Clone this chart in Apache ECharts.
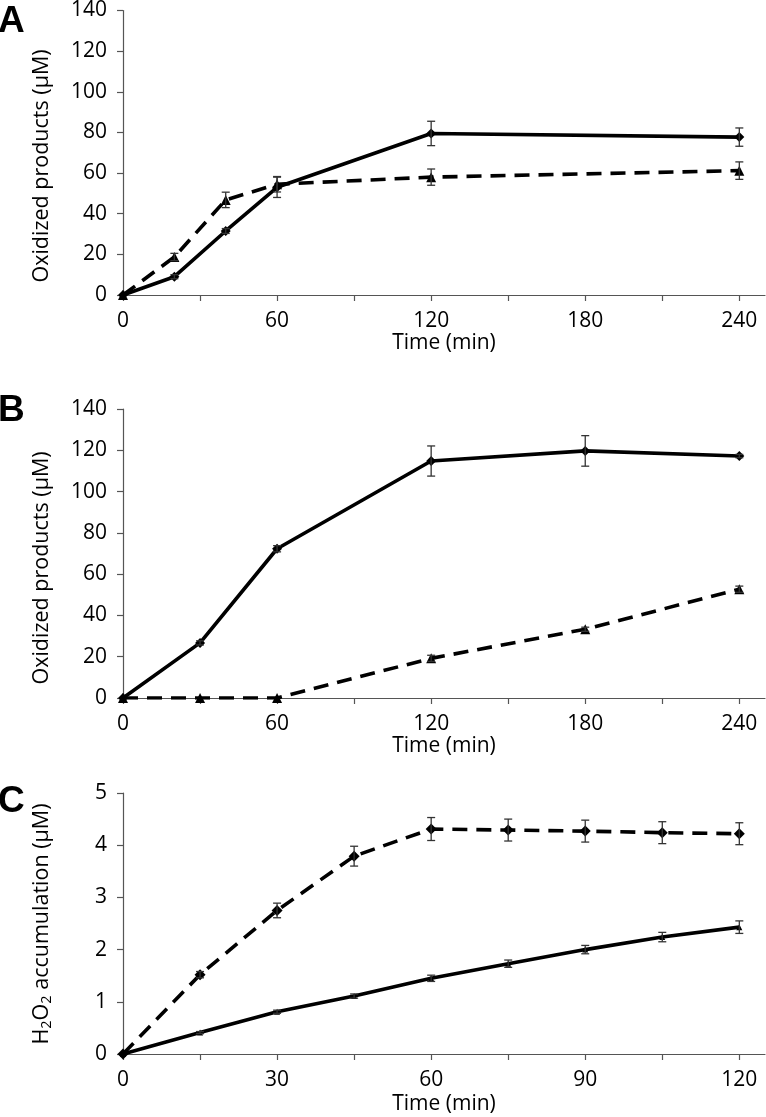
<!DOCTYPE html>
<html>
<head>
<meta charset="utf-8">
<script src="https://cdn.jsdelivr.net/npm/echarts@6/dist/echarts.min.js"></script>
<style>html,body{margin:0;padding:0;background:#fff;}#chart{width:766px;height:1117px;}</style>
</head>
<body>
<div id="chart"></div>
<script>
// Panel A
const timeA = [0, 20, 40, 60, 120, 240];
const aSolid = [0, 9, 31.5, 53, 79.5, 77.7];
const aSolidErr = [0, 1, 1.2, 5, 6, 4.5];
const aDashed = [0, 18.7, 46.8, 54.5, 58, 61.2];
const aDashedErr = [0, 1.8, 3.8, 3.8, 4, 4.3];
// Panel B
const timeB = [0, 30, 60, 120, 180, 240];
const bSolid = [0, 26.7, 72.3, 114.8, 119.7, 117.2];
const bSolidErr = [0, 1, 1.5, 7.3, 7.4, 0.8];
const bDashed = [0, 0, 0, 19.2, 33.3, 52.7];
const bDashedErr = [0, 0, 0, 1.5, 1, 1.5];
// Panel C
const timeC = [0, 15, 30, 45, 60, 75, 90, 105, 120];
const cDashed = [0, 1.52, 2.75, 3.79, 4.31, 4.29, 4.27, 4.24, 4.22];
const cDashedErr = [0, 0.06, 0.14, 0.19, 0.22, 0.21, 0.21, 0.21, 0.21];
const cSolid = [0, 0.41, 0.81, 1.11, 1.45, 1.73, 2.0, 2.24, 2.43];
const cSolidErr = [0, 0.02, 0.03, 0.04, 0.06, 0.07, 0.08, 0.09, 0.12];
// Ticks
const tickAB = [0, 30, 60, 90, 120, 150, 180, 210, 240];
const labelAB = [0, 60, 120, 180, 240];
const tickC = [0, 15, 30, 45, 60, 75, 90, 105, 120];
const labelC = [0, 30, 60, 90, 120];
const yTitleAB = 'Oxidized products (µM)';
const xTitle = 'Time (min)';

const FONT = 'Open Sans';
const TXT = '#000';
const pairs = (t, v) => t.map((x, i) => [x, v[i]]);
const errData = (t, v, e) => t.map((x, i) => [x, v[i] - e[i], v[i] + e[i], e[i]]).filter(d => d[3] > 0);

function errSeries(idx, data) {
  return {
    type: 'custom', xAxisIndex: idx, yAxisIndex: idx, z: 5, data: data,
    renderItem: function (params, api) {
      const x = api.value(0);
      const p1 = api.coord([x, api.value(1)]);
      const p2 = api.coord([x, api.value(2)]);
      const w = 4;
      const st = { stroke: '#333', lineWidth: 1.3 };
      return {
        type: 'group', children: [
          { type: 'line', shape: { x1: p1[0], y1: p1[1], x2: p2[0], y2: p2[1] }, style: st },
          { type: 'line', shape: { x1: p1[0] - w, y1: p1[1], x2: p1[0] + w, y2: p1[1] }, style: st },
          { type: 'line', shape: { x1: p2[0] - w, y1: p2[1], x2: p2[0] + w, y2: p2[1] }, style: st }
        ]
      };
    }
  };
}
function lineSeries(idx, data, dashed, symbol, size) {
  return {
    type: 'line', xAxisIndex: idx, yAxisIndex: idx, data: data, z: 3,
    symbol: symbol, symbolSize: size, showSymbol: true,
    itemStyle: { color: '#000' },
    lineStyle: { color: '#000', width: 3.6, type: dashed ? [15, 9] : 'solid', cap: 'butt' },
    emphasis: { disabled: true }, animation: false
  };
}
function xAxis(idx, max, ticks, labels, gap) {
  return {
    type: 'value', gridIndex: idx, min: 0, max: max,
    name: xTitle, nameLocation: 'middle', nameGap: gap,
    nameTextStyle: { fontFamily: FONT, fontSize: 21, color: TXT },
    axisLine: { onZero: false, lineStyle: { color: '#555', width: 1.2 } },
    axisTick: { show: true, inside: false, length: 6, customValues: ticks, lineStyle: { color: '#555', width: 1.2 } },
    axisLabel: { customValues: labels, margin: 16, fontFamily: FONT, fontSize: 21, color: TXT },
    splitLine: { show: false }
  };
}
function yAxis(idx, max, interval) {
  return {
    type: 'value', gridIndex: idx, min: 0, max: max, interval: interval,
    axisLine: { show: true, lineStyle: { color: '#555', width: 1.2 } },
    axisTick: { show: true, inside: false, length: 6, lineStyle: { color: '#555', width: 1.2 } },
    axisLabel: { margin: 16, fontFamily: FONT, fontSize: 21, color: TXT },
    splitLine: { show: false }
  };
}
function vText(x, y, text, rich) {
  return {
    type: 'text', x: x, y: y, rotation: Math.PI / 2,
    style: { text: text, fontFamily: FONT, fontSize: 21.5, fill: TXT, align: 'center', verticalAlign: 'middle', rich: rich }
  };
}
function letter(x, y, t) {
  return { type: 'text', x: x, y: y, style: { text: t, fontFamily: 'Liberation Sans', fontWeight: 'bold', fontSize: 37, fill: '#000', align: 'left', verticalAlign: 'middle' } };
}

const chart = echarts.init(document.getElementById('chart'), null, { renderer: 'canvas' });
chart.setOption({
  animation: false,
  backgroundColor: '#fff',
  grid: [
    { left: 123, width: 642, top: 7, height: 288 },
    { left: 123, width: 642, top: 409, height: 289 },
    { left: 123, width: 642, top: 793, height: 261 }
  ],
  xAxis: [xAxis(0, 250, tickAB, labelAB, 37), xAxis(1, 250, tickAB, labelAB, 33), xAxis(2, 125, tickC, labelC, 40)],
  yAxis: [yAxis(0, 140, 20), yAxis(1, 140, 20), yAxis(2, 5, 1)],
  graphic: [
    letter(-2, 22, 'A'), letter(-2, 411, 'B'), letter(-2, 802, 'C'),
    vText(42, 166, yTitleAB), vText(42, 568, yTitleAB),
    vText(42, 924, 'H{s|2}O{s|2} accumulation (µM)', { s: { fontFamily: FONT, fontSize: 14.5, padding: [10, 0, 0, 0], fill: TXT } })
  ],
  series: [
    lineSeries(0, pairs(timeA, aSolid), false, 'diamond', 10),
    lineSeries(0, pairs(timeA, aDashed), true, 'triangle', 10),
    errSeries(0, errData(timeA, aSolid, aSolidErr)),
    errSeries(0, errData(timeA, aDashed, aDashedErr)),
    lineSeries(1, pairs(timeB, bSolid), false, 'diamond', 10),
    lineSeries(1, pairs(timeB, bDashed), true, 'triangle', 10),
    errSeries(1, errData(timeB, bSolid, bSolidErr)),
    errSeries(1, errData(timeB, bDashed, bDashedErr)),
    lineSeries(2, pairs(timeC, cDashed), true, 'diamond', 11),
    lineSeries(2, pairs(timeC, cSolid), false, 'triangle', 6),
    errSeries(2, errData(timeC, cDashed, cDashedErr)),
    errSeries(2, errData(timeC, cSolid, cSolidErr))
  ]
});
</script>
</body>
</html>
